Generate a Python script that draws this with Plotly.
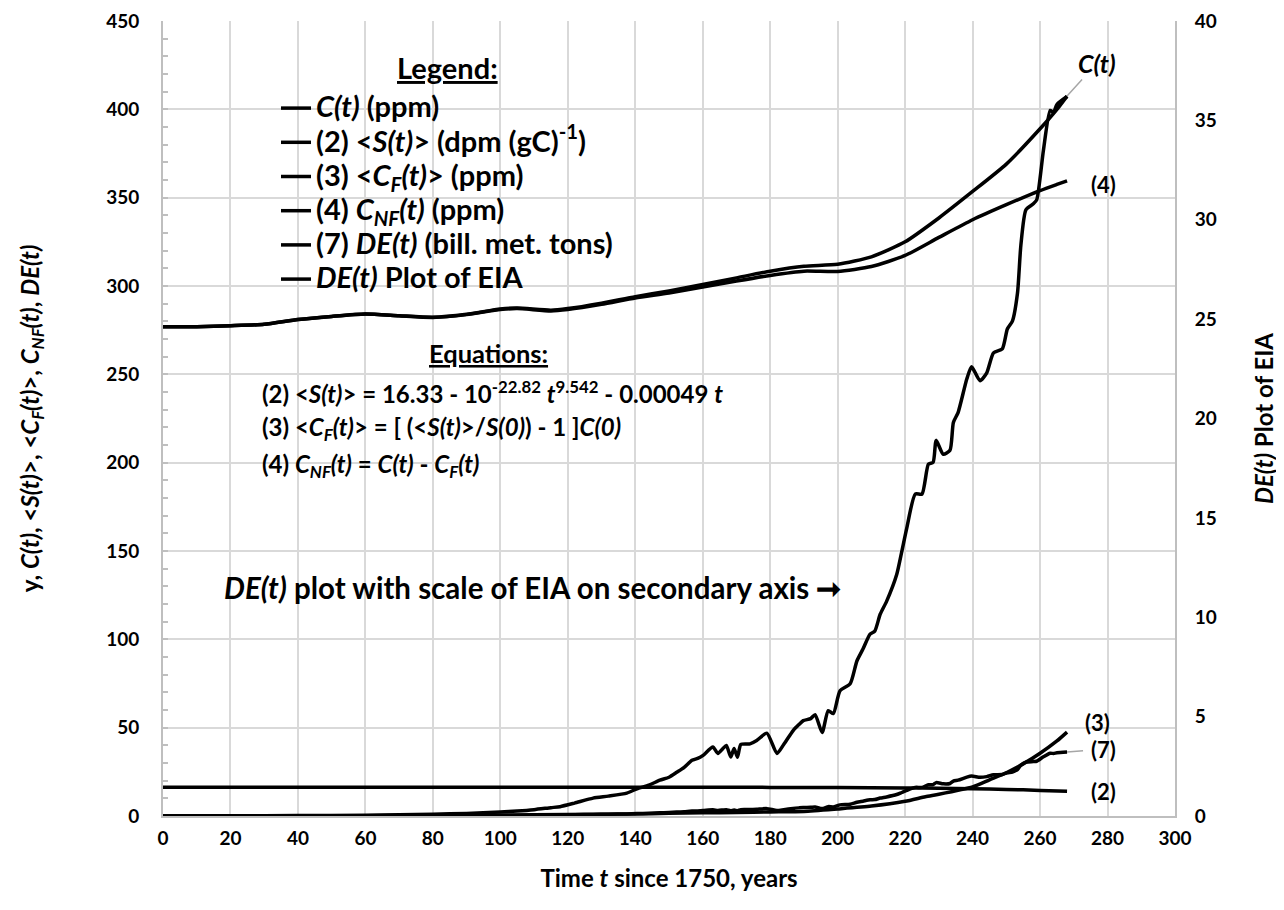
import plotly.graph_objects as go

# ---------------- data ----------------
t_C = [0, 10, 20, 30, 40, 50, 60, 70, 80, 90, 100, 105, 115, 120, 130, 140, 150,
       160, 170, 180, 190, 200, 210, 220, 230, 240, 250, 260, 265, 268]
C_ppm = [277.0, 277.0, 277.5, 278.3, 281.0, 282.8, 284.2, 283.2, 282.3, 284.0, 287.0,
         287.5, 286.3, 287.2, 290.3, 294.0, 297.2, 300.8, 304.6, 308.4, 311.2, 312.3,
         316.5, 325.0, 338.5, 353.5, 369.0, 389.0, 400.0, 407.5]
CNF_ppm = [277.0, 277.0, 277.5, 278.3, 281.0, 282.8, 284.1, 283.1, 282.2, 283.8, 286.7,
           287.2, 285.9, 286.7, 289.6, 293.2, 296.0, 299.4, 302.8, 306.0, 308.4, 308.2,
           311.0, 317.3, 327.5, 337.5, 346.0, 354.0, 357.5, 359.5]

t_CF = [0, 20, 40, 60, 80, 100, 120, 140, 150, 160, 170, 180, 190, 200, 210, 220,
        226, 230, 240, 245, 250, 255, 260, 265, 268]
CF_ppm = [0.0, 0.05, 0.1, 0.2, 0.3, 0.5, 0.8, 1.2, 1.5, 1.8, 2.0, 2.3, 2.6, 4.0, 5.6,
          8.3, 10.9, 12.3, 16.5, 20.5, 24.5, 29.5, 35.5, 42.5, 47.5]

t_S = [0, 50, 100, 150, 180, 200, 220, 230, 240, 250, 260, 268]
S_dpm = [16.33, 16.31, 16.28, 16.25, 16.2, 16.1, 15.9, 15.7, 15.4, 15.05, 14.5, 14.0]

t_DE = [0, 20, 40, 60, 70, 80, 90, 100, 105, 110, 115, 117.7, 122, 127.5, 132, 137.5,
        140.5, 144, 147.3, 150, 152.3, 154.5, 156.8, 158.5, 160.1, 163, 164.5, 166, 167,
        168.3, 169.3, 170.3, 171.3, 174, 176, 179, 182, 184, 186.8, 188.5, 189.8, 192,
        193.3, 195.4, 197.2, 198.7, 200.7, 203.7, 205.7, 207.5, 209.6, 211, 212.6, 214.5,
        217.5, 219, 220.5, 223, 225, 226.9, 228.3, 229.2, 231.3, 233.3, 234.3, 235.7,
        238.3, 239.7, 242.2, 244.2, 246.2, 248.8, 250.3, 251.8, 253.3, 254.3, 255.8,
        258, 259, 261, 263, 264, 265, 268]
DE_gt = [0.0, 0.01, 0.02, 0.04, 0.06, 0.09, 0.13, 0.2, 0.25, 0.32, 0.42, 0.47, 0.65,
         0.9, 1.0, 1.15, 1.37, 1.55, 1.8, 1.95, 2.2, 2.45, 2.8, 2.9, 3.05, 3.47, 3.15,
         3.4, 3.55, 2.97, 3.4, 2.96, 3.6, 3.63, 3.8, 4.17, 3.15, 3.6, 4.3, 4.6, 4.8, 4.9,
         5.1, 4.2, 5.3, 5.15, 6.3, 6.65, 7.8, 8.4, 9.15, 9.3, 10.15, 10.8, 12.15, 13.3,
         14.5, 16.2, 16.2, 17.7, 17.8, 18.9, 18.2, 18.4, 19.8, 20.3, 22.0, 22.6, 21.9,
         22.3, 23.3, 23.5, 24.5, 24.9, 26.3, 28.7, 30.5, 30.8, 31.0, 33.5, 35.5, 35.4,
         35.8, 36.2]

x_ticks = list(range(0, 301, 20))
y_ticks = list(range(0, 451, 50))
y2_ticks = list(range(0, 41, 5))

FONT = "Lato"
LW = 3.5

legend_labels = [
    "<i>C(t)</i> (ppm)",
    "(2) &lt;<i>S(t)</i>&gt; (dpm (gC)<sup>-1</sup>)",
    "(3) &lt;<i>C<sub>F</sub>(t)</i>&gt; (ppm)",
    "(4) <i>C<sub>NF</sub>(t)</i> (ppm)",
    "(7) <i>DE(t)</i> (bill. met. tons)",
    "<i>DE(t)</i> Plot of EIA",
]
names = ['<span style="font-size:29px"><b>' + s + '</b></span>' for s in legend_labels]

fig = go.Figure()
line = dict(color="black", width=LW, shape="spline", smoothing=0.6)
fig.add_trace(go.Scatter(x=t_C, y=C_ppm, mode="lines", name=names[0], line=line, legendgroup="a"))
fig.add_trace(go.Scatter(x=t_S, y=S_dpm, mode="lines", name=names[1], line=line, legendgroup="b"))
fig.add_trace(go.Scatter(x=t_CF, y=CF_ppm, mode="lines", name=names[2], line=line, legendgroup="c"))
fig.add_trace(go.Scatter(x=t_C, y=CNF_ppm, mode="lines", name=names[3], line=line, legendgroup="d"))
fig.add_trace(go.Scatter(x=t_DE, y=DE_gt, mode="lines", name=names[4], line=line, legendgroup="e"))
fig.add_trace(go.Scatter(x=t_DE, y=DE_gt, mode="lines", name=names[5], line=line, legendgroup="f",
                         yaxis="y2"))

# plot area in page pixels: x 163..1175, y TOP..816
TOP, BOT = 21, 816
def py(p):
    return 1 - (p - TOP) / float(BOT - TOP)
def px(p):
    return (p - 163) / 1012.0

ann = []
lab_font = dict(family=FONT, size=22, color="black")
ann.append(dict(x=t_C[-1], y=C_ppm[-1], xref="x", yref="y", text="<b><i>C(t)</i></b>",
                showarrow=True, arrowhead=0, arrowwidth=1.5, arrowcolor="#a6a6a6",
                ax=30, ay=-33, font=dict(family=FONT, size=25, color="black")))
ann.append(dict(x=t_C[-1], y=CNF_ppm[-1], xref="x", yref="y", text="<b>(4)</b>",
                showarrow=False, xanchor="left", xshift=22, yshift=-4, font=lab_font))
ann.append(dict(x=t_CF[-1], y=CF_ppm[-1], xref="x", yref="y", text="<b>(3)</b>",
                showarrow=False, xanchor="left", xshift=16, yshift=10, font=lab_font))
ann.append(dict(x=t_DE[-1], y=DE_gt[-1], xref="x", yref="y", text="<b>(7)</b>",
                showarrow=True, arrowhead=0, arrowwidth=1.5, arrowcolor="#a6a6a6",
                ax=36, ay=-3, borderpad=7, font=lab_font))
ann.append(dict(x=t_S[-1], y=S_dpm[-1], xref="x", yref="y", text="<b>(2)</b>",
                showarrow=False, xanchor="left", xshift=22, yshift=0, font=lab_font))

# legend heading
ann.append(dict(x=px(447), y=py(68), xref="paper", yref="paper", text="<b><u>Legend:</u></b>",
                showarrow=False, xanchor="center", yanchor="middle",
                font=dict(family=FONT, size=29, color="black")))

eq_font = dict(family=FONT, size=24, color="black")
ann.append(dict(x=px(488), y=py(353), xref="paper", yref="paper", text="<b><u>Equations:</u></b>",
                showarrow=False, xanchor="center", yanchor="middle",
                font=dict(family=FONT, size=25.5, color="black")))
eqs = [
    "<b>(2) &lt;<i>S(t)</i>&gt; = 16.33 - 10<sup>-22.82</sup> <i>t</i><sup>9.542</sup> - 0.00049 <i>t</i></b>",
    "<b>(3) &lt;<i>C<sub>F</sub>(t)</i>&gt; = [ (&lt;<i>S(t)</i>&gt;/<i>S(0)</i>) - 1 ]<i>C(0)</i></b>",
    "<b>(4) <i>C<sub>NF</sub>(t)</i> = <i>C(t)</i> - <i>C<sub>F</sub>(t)</i></b>",
]
for e, yy in zip(eqs, [392, 428, 465]):
    ann.append(dict(x=px(260), y=py(yy), xref="paper", yref="paper", text=e, showarrow=False,
                    xanchor="left", yanchor="middle", font=eq_font))
ann.append(dict(x=px(222), y=py(587), xref="paper", yref="paper",
                text="<b><i>DE(t)</i> plot with scale of EIA on secondary axis \u279e</b>",
                showarrow=False, xanchor="left", yanchor="middle",
                font=dict(family=FONT, size=29.5, color="black")))

axis_line = "#bfbfbf"
grid = "#d9d9d9"
tickfont = dict(family=FONT, size=19, color="black", weight="bold")
title_font = dict(family=FONT, size=24, color="black")

fig.update_layout(
    width=1284, height=910,
    margin=dict(l=155, r=117, t=TOP - 8, b=910 + 8 - BOT, autoexpand=False),
    paper_bgcolor="white", plot_bgcolor="white",
    font=dict(family=FONT, color="black"),
    showlegend=True,
    legend=dict(
        x=px(276), y=py(86), xanchor="left", yanchor="top",
        bgcolor="rgba(0,0,0,0)", borderwidth=0,
        font=dict(family=FONT, size=24, color="black"),
        traceorder="grouped", tracegroupgap=0,
    ),
    annotations=ann,
    xaxis=dict(range=[0, 300], tickvals=x_ticks, showgrid=True, gridcolor=grid, gridwidth=1.5,
               showline=True, linecolor=axis_line, linewidth=2, ticks="", zeroline=False,
               tickfont=tickfont, ticklabelstandoff=4, ticklabeloverflow="allow",
               title=dict(text="<b>Time <i>t</i> since 1750, years</b>", font=title_font, standoff=22)),
    yaxis=dict(range=[0, 450], tickvals=y_ticks, showgrid=True, gridcolor=grid, gridwidth=1.5,
               showline=True, linecolor=axis_line, linewidth=2, zeroline=False,
               ticks="inside", ticklen=5, tickcolor=axis_line, tickwidth=1.5,
               minor=dict(dtick=10, ticks="inside", ticklen=5, tickcolor=axis_line, tickwidth=1.5,
                          showgrid=False),
               tickfont=tickfont, ticklabelstandoff=18, ticklabeloverflow="allow",
               title=dict(text="<b>y, <i>C(t)</i>, &lt;<i>S(t)</i>&gt;, &lt;<i>C<sub>F</sub>(t)</i>&gt;, "
                               "<i>C<sub>NF</sub>(t)</i>, <i>DE(t)</i></b>",
                          font=title_font, standoff=60)),
    yaxis2=dict(range=[0, 40], tickvals=y2_ticks, overlaying="y", side="right", showgrid=False,
                showline=True, linecolor=axis_line, linewidth=2, zeroline=False, ticks="",
                tickfont=tickfont, ticklabelstandoff=14, ticklabeloverflow="allow",
                title=dict(text="<b><i>DE(t)</i> Plot of EIA</b>", font=title_font, standoff=40)),
)

fig.write_html("out.html")
